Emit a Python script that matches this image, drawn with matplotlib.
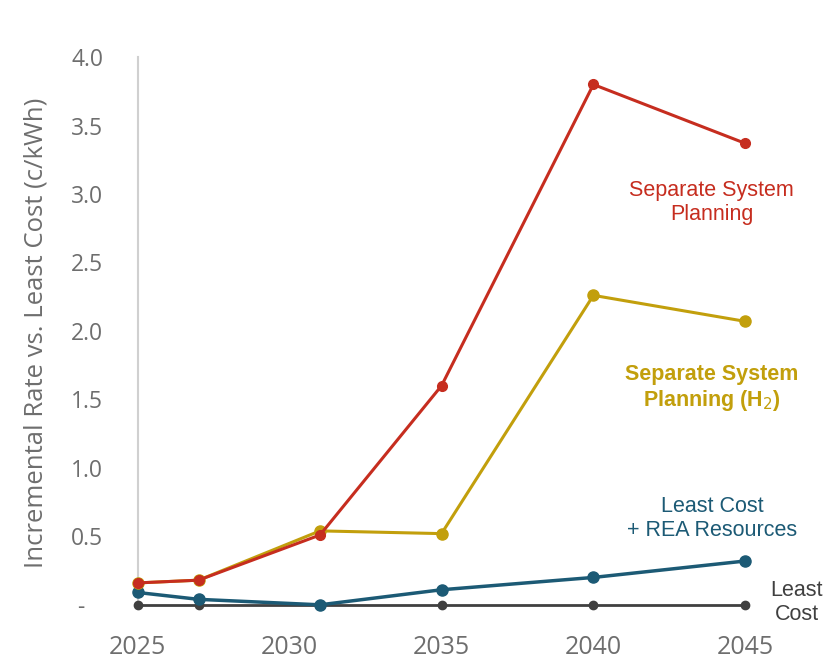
import matplotlib.pyplot as plt

years = [2025, 2027, 2031, 2035, 2040, 2045]
separate = [0.16, 0.18, 0.51, 1.60, 3.80, 3.37]
separate_h2 = [0.16, 0.18, 0.54, 0.52, 2.26, 2.07]
rea = [0.09, 0.04, 0.0, 0.11, 0.20, 0.32]
least_cost = [0, 0, 0, 0, 0, 0]

yticks = [0, 0.5, 1.0, 1.5, 2.0, 2.5, 3.0, 3.5, 4.0]
ytick_labels = ["-   ", "0.5", "1.0", "1.5", "2.0", "2.5", "3.0", "3.5", "4.0"]
xticks = [2025, 2030, 2035, 2040, 2045]

RED = "#C62D1F"
GOLD = "#C29F0C"
BLUE = "#1C5A75"
DARK = "#404040"
GRAY = "#6E6E6E"

fig = plt.figure(figsize=(8.25, 6.64), dpi=100)
ax = fig.add_axes([0.167, 0.085, 0.81, 0.829])

ax.plot(years, least_cost, color=DARK, lw=2, marker="o", ms=6, clip_on=False, zorder=3)
ax.plot(years, rea, color=BLUE, lw=2.5, marker="o", ms=8, clip_on=False, zorder=4)
ax.plot(years, separate_h2, color=GOLD, lw=2.2, marker="o", ms=8, clip_on=False, zorder=5)
ax.plot(years, separate, color=RED, lw=2.2, marker="o", ms=7, clip_on=False, zorder=6)

ax.set_xlim(2025, 2047)
ax.set_ylim(-0.02, 4.0)
ax.set_yticks(yticks)
ax.set_yticklabels(ytick_labels)
ax.set_xticks(xticks)

for s in ["top", "right", "bottom"]:
    ax.spines[s].set_visible(False)
ax.spines["left"].set_color("#D0D0D0")
ax.spines["left"].set_linewidth(1.5)
ax.tick_params(axis="y", length=0, labelsize=16.5, labelcolor=GRAY, pad=25)
ax.tick_params(axis="x", length=0, labelsize=18, labelcolor=GRAY, pad=20)
for lab in ax.get_xticklabels() + ax.get_yticklabels():
    lab.set_fontfamily("Open Sans")

ax.set_ylabel("Incremental Rate vs. Least Cost (c/kWh)", fontsize=18.5, color=GRAY,
              fontfamily="Open Sans", labelpad=16)

txt = dict(fontfamily="Liberation Sans", fontsize=15.5, ha="center", va="center",
           linespacing=1.2)
ax.text(2043.9, 2.94, "Separate System\nPlanning", color=RED, **txt)
ax.text(2043.9, 1.58, "Separate System\nPlanning (H$_2$)", color=GOLD,
        fontweight="bold", **txt)
ax.text(2043.9, 0.63, "Least Cost\n+ REA Resources", color=BLUE, **txt)
ax.text(2046.7, 0.015, "Least\nCost", color=DARK, **txt)

fig.savefig("out.png", dpi=100)
